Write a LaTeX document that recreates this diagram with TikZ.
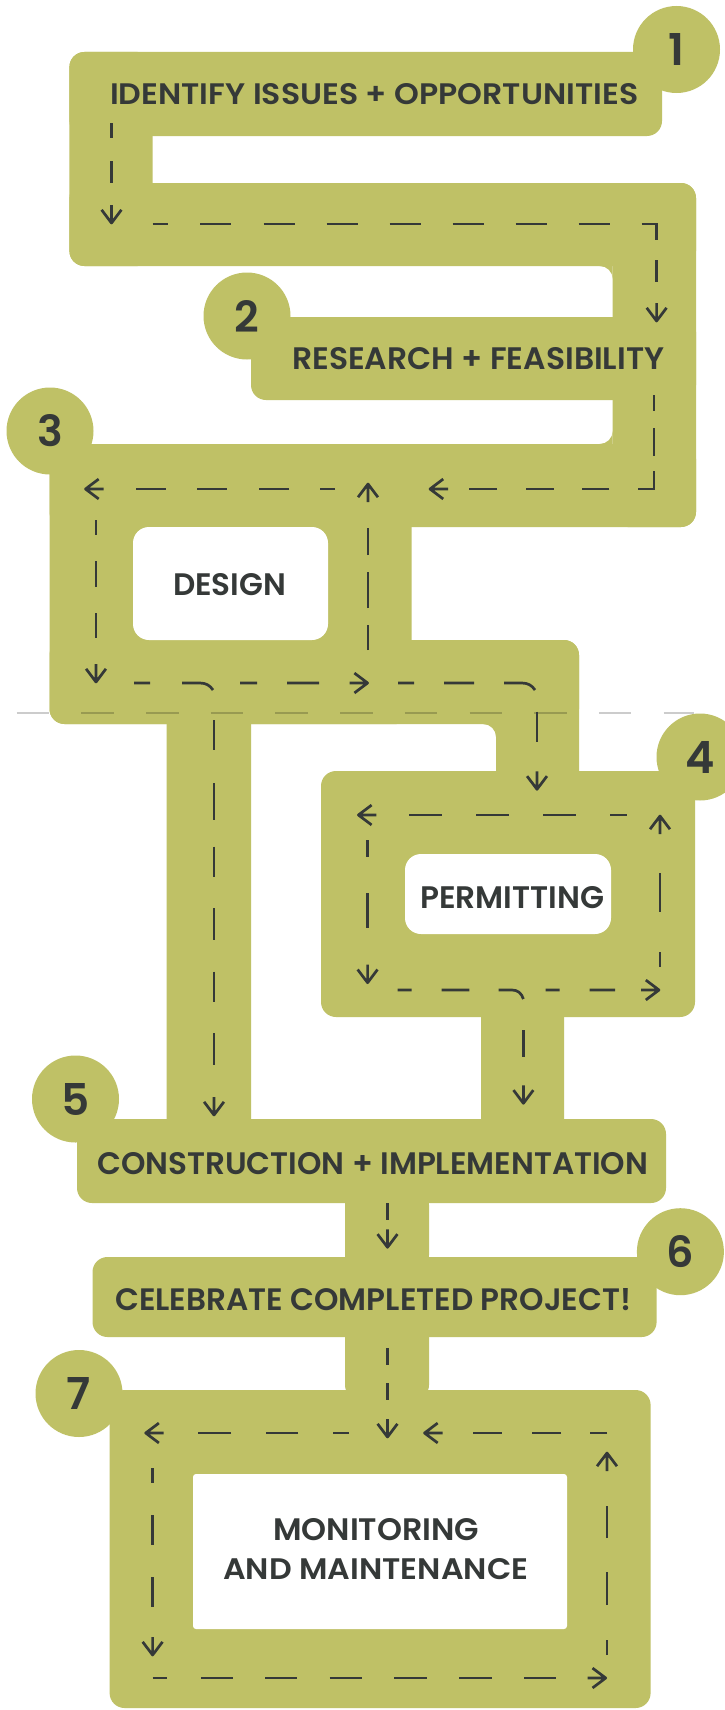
\documentclass[tikz,border=0pt]{standalone}
\usepackage{fontspec}
\setmainfont{Poppins}[BoldFont={* SemiBold}]
\usepackage{graphicx}
\definecolor{olivegr}{RGB}{191,193,102}
\definecolor{ink}{RGB}{53,57,56}
\newcommand\olfillet[4]{\fill[olivegr] (#1,#2) -- ({#1+(#3)*13},#2) .. controls ({#1+(#3)*5.8},#2) and (#1,{#2+(#4)*5.8}) .. (#1,{#2+(#4)*13}) -- cycle;}
\newcommand\tipat[3]{\draw[tipln] (#1,#2) ++(#3+143:16.5) -- (#1,#2) -- ++(#3+217:16.5) (#1,#2) -- ++(#3+180:18);}
\begin{document}
\begin{tikzpicture}[x=1pt,y=-1pt,
  grn/.style={fill=olivegr, rounded corners=15pt},
  hole/.style={fill=white, rounded corners=16pt},
  rd/.style={draw=ink, line width=2.7pt, line cap=butt, line join=miter},
  tipln/.style={draw=ink, line width=2.7pt, line cap=butt, line join=round},
  num/.style={circle, fill=olivegr, minimum size=87pt, inner sep=0pt, text=ink, font=\bfseries},
  lab/.style={text=ink, inner sep=0pt, font=\bfseries},
  guide/.style={draw=black, opacity=0.2, line width=2pt, dash pattern=on 32.5pt off 32.2pt}
]
\fill[white] (0,0) rectangle (725,1710);
\useasboundingbox (0,0) rectangle (725,1710);

% ---- green road shapes ----
\fill[grn] (69.4,52) rectangle (662,136);
\fill[grn] (69.4,52) rectangle (152.6,266);
\fill[grn] (69.4,183) rectangle (696,266);
\fill[grn] (612.7,183) rectangle (696,527);
\fill[grn] (251,317) rectangle (696,400);
\fill[grn] (49.5,444) rectangle (696,527);
\fill[grn] (49.5,444) rectangle (411.5,724);
\fill[grn] (49.5,640) rectangle (579,724);
\fill[grn] (496,640) rectangle (579,800);
\fill[grn] (166.5,700) rectangle (251,1140);
\fill[grn] (321,771) rectangle (695,1017);
\fill[grn] (481,1000) rectangle (564,1140);
\fill[grn] (77,1119) rectangle (666,1203);
\fill[grn] (345,1190) rectangle (429,1270);
\fill[grn] (92.5,1257) rectangle (656.6,1337);
\fill[grn] (345,1320) rectangle (429,1400);
\fill[grn] (109.6,1390) rectangle (650.6,1708);
\olfillet{612.7}{266}{-1}{1}
\olfillet{612.7}{444}{-1}{-1}
\olfillet{496}{724}{-1}{1}

% ---- white boxes ----
\fill[hole] (133,527) rectangle (328,640);
\fill[hole] (405,854) rectangle (611,934);
\fill[hole, rounded corners=3pt] (193,1474) rectangle (567,1629);

% ---- guide line ----
\draw[guide] (16.6,713) -- (694,713);

% ---- step circles ----
\node[num] (n1) at (676.5,49.5) {\resizebox{!}{32pt}{1}};
\node[num] (n2) at (247,316) {\resizebox{!}{32pt}{2}};
\node[num] (n3) at (50,431) {\resizebox{!}{32pt}{3}};
\node[num] (n4) at (700,757) {\resizebox{!}{32pt}{4}};
\node[num] (n5) at (75.5,1099) {\resizebox{!}{32pt}{5}};
\node[num] (n6) at (680.4,1251.7) {\resizebox{!}{32pt}{6}};
\node[num] (n7) at (79,1393.5) {\resizebox{!}{32pt}{7}};

% ---- labels ----
\node[lab, anchor=base west] (l1) at (110,104) {\resizebox{528pt}{21pt}{IDENTIFY ISSUES + OPPORTUNITIES}};
\node[lab, anchor=base west] (l2) at (292,369) {\resizebox{372pt}{22pt}{RESEARCH + FEASIBILITY}};
\node[lab, anchor=base west] (l3) at (173,595) {\resizebox{113pt}{22pt}{DESIGN}};
\node[lab, anchor=base west] (l4) at (420,908) {\resizebox{184pt}{22pt}{PERMITTING}};
\node[lab, anchor=base west] (l5) at (97,1174) {\resizebox{551pt}{22pt}{CONSTRUCTION + IMPLEMENTATION}};
\node[lab, anchor=base west] (l6) at (115,1310) {\resizebox{516pt}{22pt}{CELEBRATE COMPLETED PROJECT!}};
\node[lab, anchor=base west] (l7a) at (273,1540) {\resizebox{206pt}{22pt}{MONITORING}};
\node[lab, anchor=base west] (l7b) at (223,1579) {\resizebox{305pt}{21pt}{AND MAINTENANCE}};

% ---- dashed roads ----
% step 1
\draw[rd] (111.5,123)--(111.5,138) (111.5,161)--(111.5,183);
\tipat{111.5}{223}{90}
\draw[rd] (152.6,224)--(168,224) (200,224)--(231,224) (263.6,224)--(294.6,224) (326.5,224)--(357.5,224) (389.5,224)--(420.5,224) (452.5,224)--(483.5,224) (515.5,224)--(546.5,224) (578.5,224)--(609.5,224) (641.5,224)--(656.6,224)--(656.6,240) (656.6,260)--(656.6,282);
\tipat{656.6}{321}{90}
% step 2
\draw[rd] (654,395)--(654,411) (654,428)--(654,456) (654,471)--(654,489)--(638,489) (609.4,489)--(581.7,489) (553.5,489)--(525.7,489) (497,489)--(469.3,489);
\tipat{430}{489}{180}
% step 3 (design loop)
\draw[rd] (335.2,489)--(320.4,489) (289,489)--(259,489) (226.6,489)--(196.5,489) (165.5,489)--(135.5,489);
\tipat{85.5}{489}{180}
\draw[rd] (96,520)--(96,535) (96,561)--(96,587) (96,613)--(96,638);
\tipat{96}{682}{90}
\draw[rd] (134,683)--(150,683) (182,683)--(200,683) .. controls (206,683) and (210,685.5) .. (213,690) (240,683)--(257,683) (287,683)--(319,683);
\tipat{367.6}{683}{0}
\draw[rd] (368,650)--(368,625) (368,608)--(368,572) (368,555)--(368,528);
\tipat{368}{484}{270}
\draw[rd] (398,683)--(414,683) (444,683)--(474,683) (504,683)--(522,683) .. controls (528,683) and (532,685.5) .. (535,690);
\draw[rd] (214,720)--(214,750) (214,783)--(214,820) (214,846.7)--(214,876.7) (214,908)--(214,940) (214,971.7)--(214,1001.7) (214,1033)--(214,1065);
\tipat{214}{1115}{90}
\draw[rd] (537,711.7)--(537,741.7);
\tipat{537}{789.3}{90}
% step 4 (permitting loop)
\draw[rd] (626.6,815)--(610,815) (575.7,815)--(543,815) (508.6,815)--(476,815) (441.6,815)--(409,815);
\tipat{358.4}{815}{180}
\draw[rd] (367.6,840)--(367.6,856.7) (367.6,893)--(367.6,928);
\tipat{367.6}{982.7}{90}
\draw[rd] (397.7,990)--(411.5,990) (441.6,990)--(469.3,990) (498.5,990)--(512,990) .. controls (517.5,990) and (521.5,993) .. (523.4,999) (545.6,990)--(559.5,990) (589.6,990)--(615,990);
\tipat{659}{990}{0}
\draw[rd] (660,966.7)--(660,951.7) (660,911.7)--(660,873.3);
\tipat{660}{816}{270}
\draw[rd] (523.4,1030)--(523.4,1056.7);
\tipat{523.4}{1103.3}{90}
% steps 5 and 6
\draw[rd] (387.5,1203.3)--(387.5,1220);
\tipat{387.5}{1247.3}{90}
\draw[rd] (387.5,1348)--(387.5,1365) (387.5,1383)--(387.5,1400);
\tipat{387.5}{1437}{90}
% step 7 (monitoring loop)
\draw[rd] (607,1433)--(589.6,1433) (561,1433)--(531.8,1433) (501.7,1433)--(472.6,1433);
\tipat{424.5}{1433}{180}
\draw[rd] (349,1433)--(333,1433) (298,1433)--(265.9,1433) (231,1433)--(198,1433);
\tipat{145.7}{1433}{180}
\draw[rd] (152.6,1468)--(152.6,1483) (152.6,1515)--(152.6,1545) (152.6,1577)--(152.6,1607);
\tipat{152.6}{1655}{90}
\draw[rd] (152.6,1678)--(167.4,1678) (201,1678)--(232.6,1678) (265,1678)--(297,1678) (329.7,1678)--(362,1678) (394.4,1678)--(426.8,1678) (459,1678)--(491.5,1678) (524,1678)--(556,1678);
\tipat{605.7}{1678}{0}
\draw[rd] (607,1655)--(607,1640) (607,1605)--(607,1572) (607,1538)--(607,1506);
\tipat{607}{1453}{270}
\end{tikzpicture}
\end{document}
